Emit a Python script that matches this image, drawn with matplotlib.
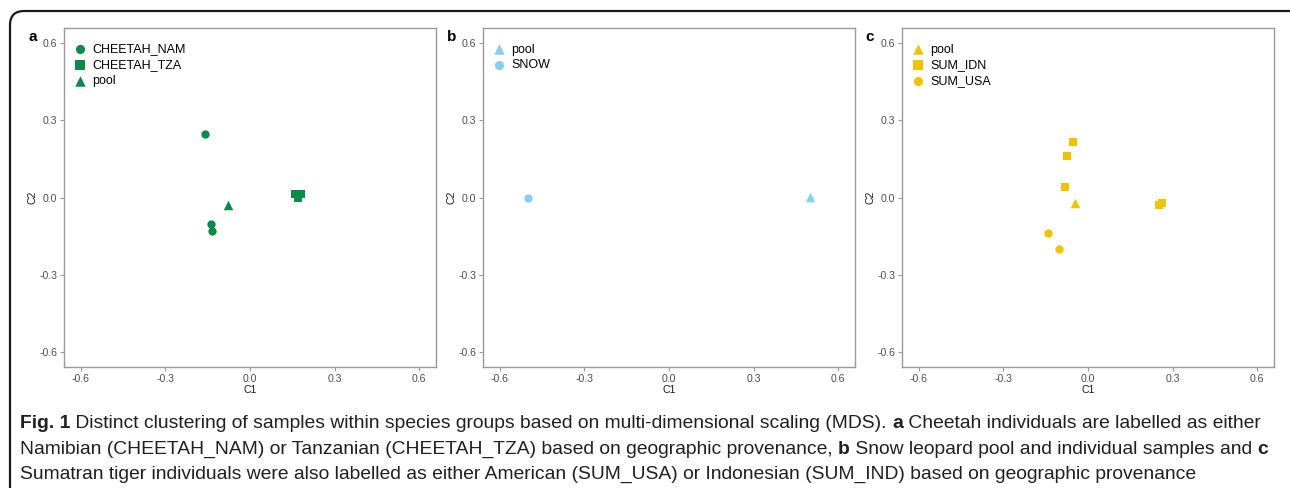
import numpy as np
import matplotlib.pyplot as plt
from matplotlib.patches import FancyBboxPatch

plt.rcParams['font.family'] = ['Liberation Sans', 'DejaVu Sans']

# panel a - cheetah
nam_x = [-0.159, -0.138, -0.136]
nam_y = [0.246, -0.102, -0.130]
tza_x = [0.158, 0.182, 0.172]
tza_y = [0.014, 0.014, -0.003]
a_pool_x = [-0.079]
a_pool_y = [-0.028]

# panel b - snow leopard
b_pool_x = [0.50]
b_pool_y = [0.003]
snow_x = [-0.50]
snow_y = [0.0]

# panel c - sumatran tiger
c_pool_x = [-0.045]
c_pool_y = [-0.020]
idn_x = [-0.055, -0.076, -0.082, 0.252, 0.263]
idn_y = [0.218, 0.162, 0.040, -0.031, -0.022]
usa_x = [-0.142, -0.102]
usa_y = [-0.139, -0.200]

ticks = [-0.6, -0.3, 0.0, 0.3, 0.6]
tick_labels = ['-0.6', '-0.3', '0.0', '0.3', '0.6']

green = '#0A8B47'
blue = '#87CEEB'
yellow = '#EFC300'

W, H = 1290, 488
fig = plt.figure(figsize=(W / 100, H / 100), dpi=100)

# outer rounded frame (runs off the right and bottom edge)
frame = FancyBboxPatch((10 / W, -0.2), 1.5, (H - 11) / H + 0.2,
                       boxstyle='round,pad=0,rounding_size=0.011',
                       transform=fig.transFigure, fill=False,
                       edgecolor='#1A1A1A', linewidth=1.6, mutation_aspect=W / H)
fig.patches.append(frame)


def make_ax(left_px, letter, letter_px):
    ax = fig.add_axes([left_px / W, (H - 367) / H, 372 / W, 339 / H])
    ax.set_xlim(-0.66, 0.66)
    ax.set_ylim(-0.66, 0.66)
    ax.set_xticks(ticks)
    ax.set_xticklabels(tick_labels)
    ax.set_yticks(ticks)
    ax.set_yticklabels(tick_labels)
    for s in ax.spines.values():
        s.set_color('#9A9A9A')
        s.set_linewidth(1.0)
    ax.tick_params(colors='#9A9A9A', labelcolor='#4D4D4D', labelsize=7.6,
                   length=3, width=0.8, pad=2)
    ax.set_xlabel('C1', fontsize=7.6, color='#1A1A1A', labelpad=1)
    ax.set_ylabel('C2', fontsize=7.6, color='#1A1A1A', labelpad=1)
    fig.text(letter_px / W, 1 - 37 / H, letter, fontsize=11, fontweight='bold',
             ha='center', va='center')
    return ax


def add_legend(ax):
    ax.legend(loc='upper left', bbox_to_anchor=(8 / 372, 1 - 15.5 / 339),
              frameon=False, fontsize=9.0, borderpad=0, borderaxespad=0,
              handletextpad=0.4, labelspacing=0.3, handlelength=1.2,
              markerscale=1.1)


ms = 36
ax = make_ax(64, 'a', 33)
ax.scatter(nam_x, nam_y, marker='o', s=ms, color=green, label='CHEETAH_NAM', linewidths=0)
ax.scatter(tza_x, tza_y, marker='s', s=ms, color=green, label='CHEETAH_TZA', linewidths=0)
ax.scatter(a_pool_x, a_pool_y, marker='^', s=ms * 1.3, color=green, label='pool', linewidths=0)
add_legend(ax)

ax = make_ax(483, 'b', 452)
ax.scatter(b_pool_x, b_pool_y, marker='^', s=ms * 1.3, color=blue, label='pool', linewidths=0)
ax.scatter(snow_x, snow_y, marker='o', s=ms, color=blue, label='SNOW', linewidths=0)
add_legend(ax)

ax = make_ax(902, 'c', 870)
ax.scatter(c_pool_x, c_pool_y, marker='^', s=ms * 1.3, color=yellow, label='pool', linewidths=0)
ax.scatter(idn_x, idn_y, marker='s', s=ms, color=yellow, label='SUM_IDN', linewidths=0)
ax.scatter(usa_x, usa_y, marker='o', s=ms, color=yellow, label='SUM_USA', linewidths=0)
add_legend(ax)

# caption, written in segments so the bold bits can sit inline
caption = [
    [('Fig. 1', True), (' Distinct clustering of samples within species groups based on multi-dimensional scaling (MDS). ', False),
     ('a', True), (' Cheetah individuals are labelled as either', False)],
    [('Namibian (CHEETAH_NAM) or Tanzanian (CHEETAH_TZA) based on geographic provenance, ', False),
     ('b', True), (' Snow leopard pool and individual samples and ', False), ('c', True)],
    [('Sumatran tiger individuals were also labelled as either American (SUM_USA) or Indonesian (SUM_IND) based on geographic provenance', False)],
]
renderer = fig.canvas.get_renderer()


def line_width(segs, size):
    total = 0
    for txt, bold in segs:
        t = fig.text(0, 0, txt, fontsize=size, fontweight='bold' if bold else 'normal')
        total += t.get_window_extent(renderer).width
        t.remove()
    return total


size = 12.0
# widest line should end near the right frame
size = size * 1252 / max(line_width(c, size) for c in caption)

for row, segs in zip([424, 449, 474], caption):
    x = 20
    for txt, bold in segs:
        t = fig.text(x / W, 1 - row / H, txt, fontsize=size,
                     fontweight='bold' if bold else 'normal', color='#231F20',
                     va='center', ha='left')
        x += t.get_window_extent(renderer).width

fig.savefig('out.png', dpi=100)
